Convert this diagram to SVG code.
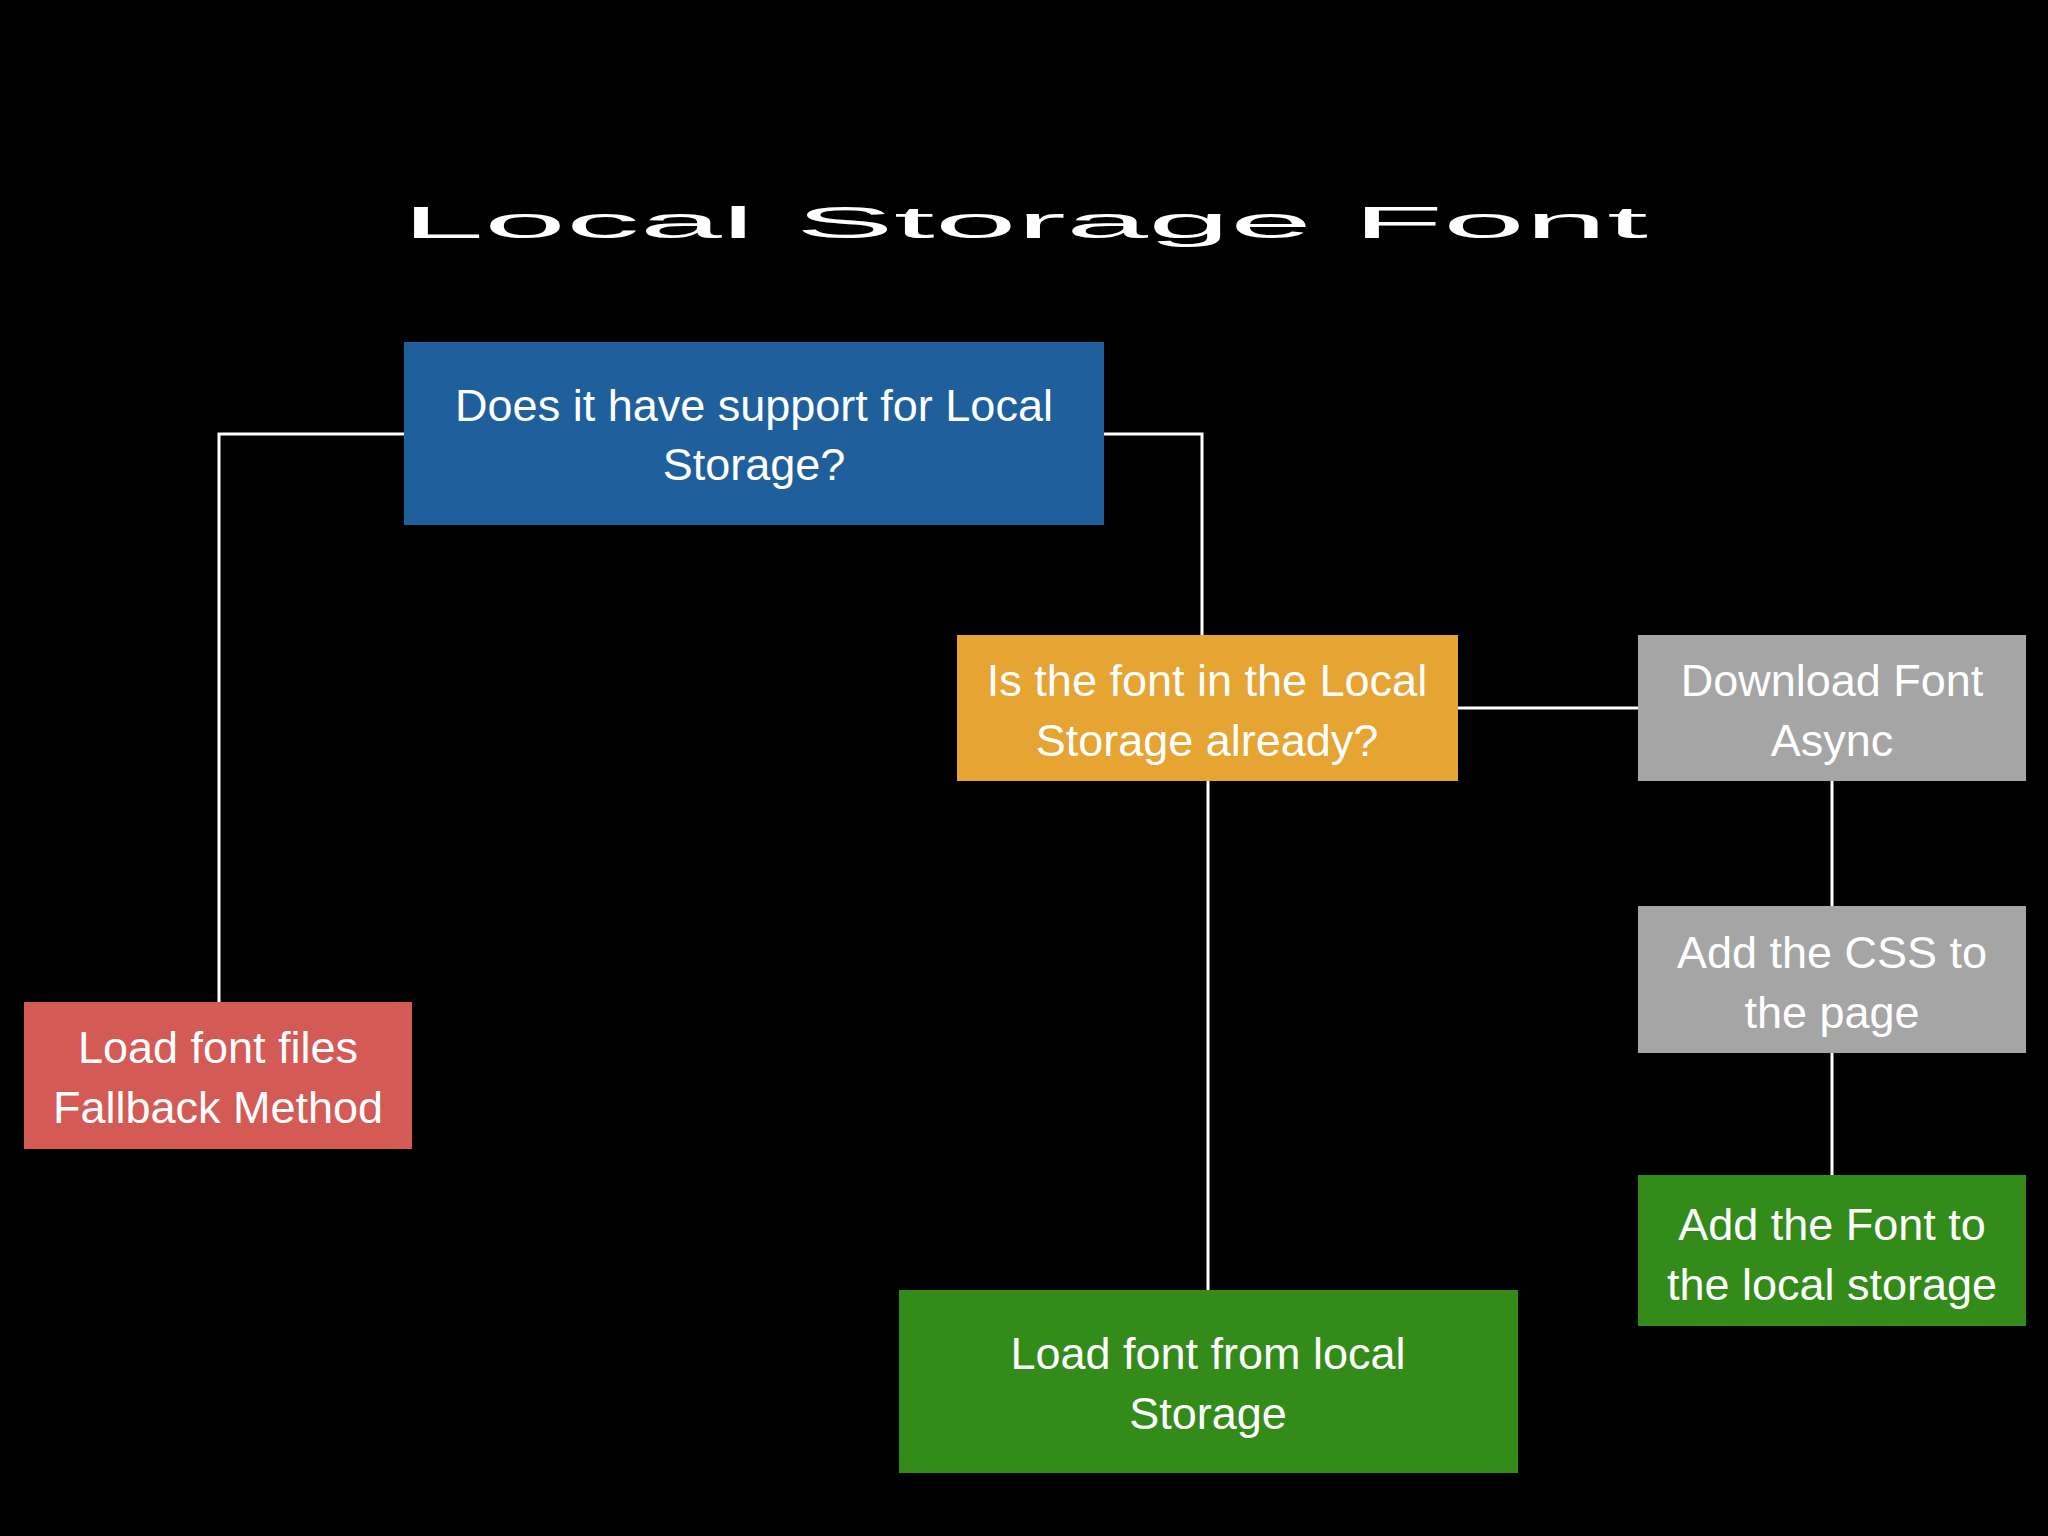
<svg xmlns="http://www.w3.org/2000/svg" width="2048" height="1536" viewBox="0 0 2048 1536">
<style>
.t{font-family:"Liberation Sans","Noto Sans",sans-serif;fill:#fff;text-anchor:middle;font-size:45px}
.c{stroke:#fff;stroke-width:3;fill:none}
</style>
<rect width="2048" height="1536" fill="#000"/>
<text class="t" x="1025" y="238" font-size="150" textLength="1246" lengthAdjust="spacingAndGlyphs">Local Storage Font</text>
<g id="connectors">
<polyline class="c" points="404,434 219,434 219,1002"/>
<polyline class="c" points="1104,434 1202,434 1202,635"/>
<line class="c" x1="1208" y1="781" x2="1208" y2="1290"/>
<line class="c" x1="1458" y1="708" x2="1638" y2="708"/>
<line class="c" x1="1832" y1="781" x2="1832" y2="906"/>
<line class="c" x1="1832" y1="1053" x2="1832" y2="1175"/>
</g>
<g id="support"><rect x="404" y="342" width="700" height="183" fill="#1f5f9c"/>
<text class="t" x="754" y="421">Does it have support for Local</text><text class="t" x="754" y="480">Storage?</text></g>
<g id="infont"><rect x="957" y="635" width="501" height="146" fill="#e6a433"/>
<text class="t" x="1207" y="696">Is the font in the Local</text><text class="t" x="1207" y="756">Storage already?</text></g>
<g id="download"><rect x="1638" y="635" width="388" height="146" fill="#a5a5a5"/>
<text class="t" x="1832" y="696">Download Font</text><text class="t" x="1832" y="756">Async</text></g>
<g id="addcss"><rect x="1638" y="906" width="388" height="147" fill="#a5a5a5"/>
<text class="t" x="1832" y="968">Add the CSS to</text><text class="t" x="1832" y="1028">the page</text></g>
<g id="addfont"><rect x="1638" y="1175" width="388" height="151" fill="#338c1a"/>
<text class="t" x="1832" y="1240">Add the Font to</text><text class="t" x="1832" y="1300">the local storage</text></g>
<g id="fallback"><rect x="24" y="1002" width="388" height="147" fill="#d45a56"/>
<text class="t" x="218" y="1063">Load font files</text><text class="t" x="218" y="1123">Fallback Method</text></g>
<g id="loadlocal"><rect x="899" y="1290" width="619" height="183" fill="#338c1a"/>
<text class="t" x="1208" y="1369">Load font from local</text><text class="t" x="1208" y="1429">Storage</text></g>
</svg>
